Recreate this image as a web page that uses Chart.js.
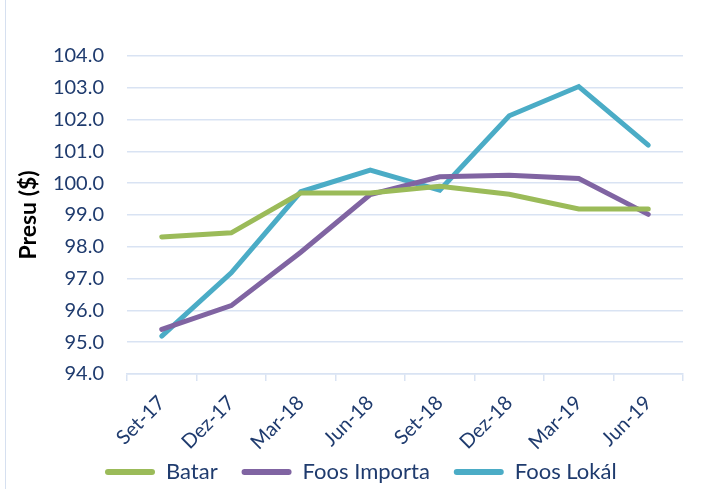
<!DOCTYPE html>
<html lang="tet">
<head>
    <meta charset="UTF-8">
    <title>Presu</title>
    <script src="https://cdn.jsdelivr.net/npm/chart.js"></script>
    <style>
        body {
            margin: 0;
            background: #fff;
        }
        .wrap {
            position: relative;
            width: 704px;
            height: 489px;
        }
        .wrap::before {
            content: '';
            position: absolute;
            left: 5px;
            top: 0;
            bottom: 0;
            border-left: 1px solid #d6e0f0;
        }
    </style>
</head>
<body>
    <div class="wrap">
        <canvas id="priceChart" width="704" height="489"></canvas>
    </div>

    <script>
        // values
        const periods = ['Set-17', 'Dez-17', 'Mar-18', 'Jun-18', 'Set-18', 'Dez-18', 'Mar-19', 'Jun-19'];
        const batar = [98.31, 98.44, 99.69, 99.69, 99.9, 99.65, 99.19, 99.19];
        const foosImporta = [95.4, 96.15, 97.83, 99.64, 100.2, 100.25, 100.15, 99.02];
        const foosLokal = [95.19, 97.18, 99.73, 100.41, 99.78, 102.12, 103.04, 101.2];

        const navy = '#1f3b6e';
        const gridBlue = '#d9e3f3';
        const fontFamily = 'Lato, "Open Sans", sans-serif';

        function series(label, data, color) {
            return {
                label: label,
                data: data,
                borderColor: color,
                backgroundColor: color,
                borderWidth: 5,
                pointRadius: 0,
                tension: 0,
                borderCapStyle: 'round'
            };
        }

        // legend sits further right (and a bit lower) than the default spot
        const legendShift = {
            id: 'legendShift',
            afterLayout(chart) {
                chart.legend.left += 83;
                chart.legend.right += 83;
                chart.legend.top += 4;
                chart.legend.bottom += 4;
            }
        };

        new Chart(document.getElementById('priceChart'), {
            type: 'line',
            data: {
                labels: periods,
                datasets: [
                    series('Batar', batar, '#9bbb59'),
                    series('Foos Importa', foosImporta, '#8064a2'),
                    series('Foos Lokál', foosLokal, '#4bacc6')
                ]
            },
            plugins: [legendShift],
            options: {
                responsive: false,
                animation: false,
                layout: {
                    padding: { top: 56, right: 21, bottom: 0, left: 15 }
                },
                scales: {
                    x: {
                        offset: true,
                        afterFit: (scale) => { scale.height = 76; },
                        grid: {
                            offset: true,
                            drawOnChartArea: false,
                            drawTicks: true,
                            tickLength: 7,
                            color: gridBlue,
                            lineWidth: 1.5
                        },
                        border: { color: gridBlue, width: 1.5 },
                        ticks: {
                            color: navy,
                            font: { family: fontFamily, size: 20 },
                            maxRotation: 45,
                            minRotation: 45,
                            padding: 10
                        }
                    },
                    y: {
                        min: 94,
                        max: 104,
                        afterFit: (scale) => { scale.width = 112; },
                        grid: {
                            color: gridBlue,
                            lineWidth: 1.5,
                            drawTicks: false
                        },
                        border: { display: false },
                        ticks: {
                            stepSize: 1,
                            color: navy,
                            padding: 23,
                            font: { family: fontFamily, size: 20 },
                            callback: (v) => v.toFixed(1)
                        },
                        title: {
                            display: true,
                            text: 'Presu ($)',
                            color: '#000',
                            font: { family: fontFamily, size: 23, weight: 'bold' },
                            padding: 0
                        }
                    }
                },
                plugins: {
                    legend: {
                        position: 'bottom',
                        align: 'start',
                        labels: {
                            boxWidth: 50,
                            boxHeight: 6,
                            useBorderRadius: true,
                            borderRadius: 3,
                            color: navy,
                            padding: 7,
                            font: { family: fontFamily, size: 22 },
                            // trailing spaces widen the gap between items
                            generateLabels: (chart) => Chart.defaults.plugins.legend.labels
                                .generateLabels(chart)
                                .map((item) => Object.assign(item, {
                                    lineWidth: 0,
                                    text: item.text + '   '
                                }))
                        }
                    },
                    tooltip: { enabled: false }
                }
            }
        });
    </script>
</body>
</html>
